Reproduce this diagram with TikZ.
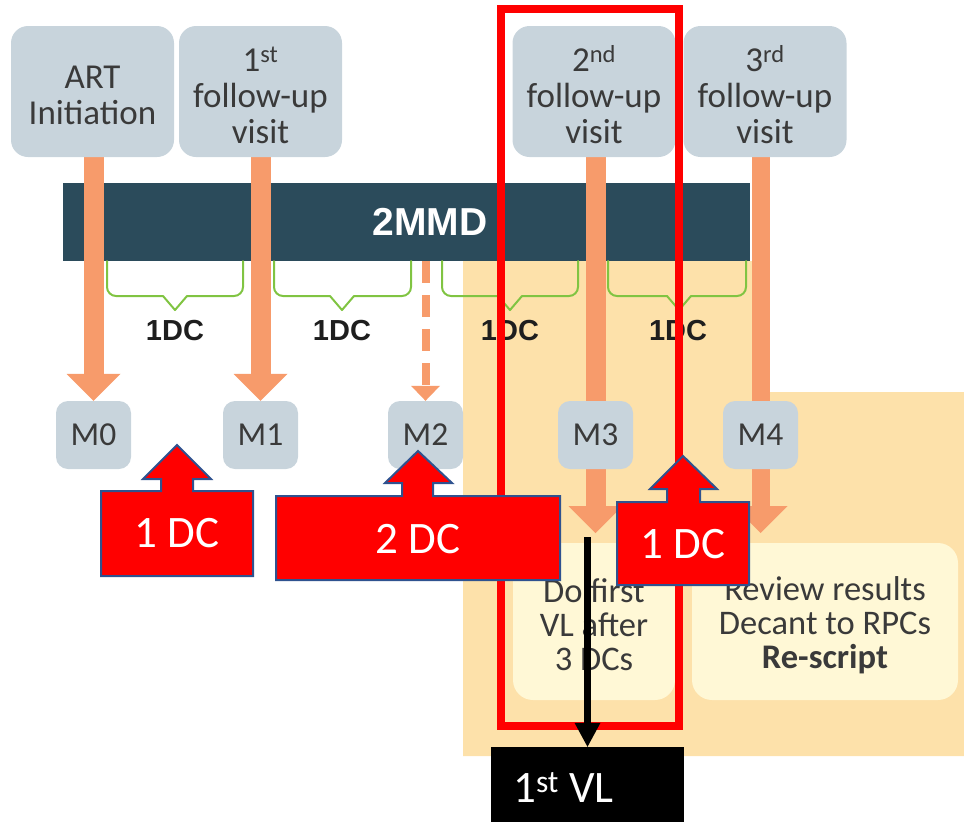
\documentclass[tikz,border=0pt]{standalone}
\usepackage{fontspec}
\setmainfont{Carlito}
\newfontfamily\arialf{Liberation Sans}
\usetikzlibrary{arrows.meta}
\pgfdeclarelayer{back}
\pgfdeclarelayer{mid}
\pgfdeclarelayer{front}
\pgfsetlayers{back,mid,main,front}
\definecolor{boxgray}{RGB}{200,212,220}
\definecolor{orng}{RGB}{247,155,107}
\definecolor{bardark}{RGB}{43,75,91}
\definecolor{beige}{RGB}{253,225,170}
\definecolor{ylw}{RGB}{255,248,214}
\definecolor{grn}{RGB}{128,196,66}
\definecolor{calloutblue}{RGB}{47,82,143}
\definecolor{txtgray}{RGB}{58,58,58}
\definecolor{txtdark}{RGB}{30,30,30}
\definecolor{hired}{RGB}{255,0,0}
\newcommand\dcbrace[3]{%
  \draw[brace, rounded corners=9pt] (#1,261) -- (#1,296) -- (#2-12,296);
  \draw[brace] (#2-12,296) -- (#2,310) -- (#2+12,296);
  \draw[brace, rounded corners=9pt] (#2+12,296) -- (#3,296) -- (#3,261);}
\begin{document}
\begin{tikzpicture}[x=1pt,y=-1pt,
  visit/.style={fill=boxgray, rounded corners=17pt, minimum width=163pt, minimum height=131pt, inner sep=0pt},
  vtext/.style={align=center, text=txtgray, inner sep=0pt, font=\fontsize{35}{36}\selectfont},
  mbox/.style={fill=boxgray, rounded corners=12pt, minimum width=75pt, minimum height=68pt, inner sep=0pt, text=txtgray, font=\fontsize{33.5}{36}\selectfont},
  ybox/.style={fill=ylw, rounded corners=20pt, minimum height=157pt, inner sep=0pt},
  ytext/.style={align=center, text=txtgray, inner sep=0pt, font=\fontsize{34.5}{34}\selectfont},
  dclabel/.style={text=txtdark, font=\arialf\bfseries\fontsize{29}{30}\selectfont, inner sep=0pt},
  oline/.style={draw=orng, line width=20pt},
  oarrow/.style={oline, -{Triangle[width=54pt,length=27pt,line width=0pt]}},
  brace/.style={draw=grn, line width=2pt, line cap=round, line join=round},
  callout/.style={fill=hired, draw=calloutblue, line width=2pt, line join=miter},
  callouttext/.style={text=white, font=\fontsize{45}{48}\selectfont, inner sep=0pt},
]
\useasboundingbox (0,0) rectangle (964,822);

% background
\begin{pgfonlayer}{back}
  \fill[beige] (463,261) -- (767,261) -- (767,392) -- (964,392) -- (964,756) -- (463,756) -- cycle;
  \node[fill=bardark, minimum width=687pt, minimum height=78pt, inner sep=0pt] (bar) at (406.5,222) {};
  \node[text=white, font=\arialf\bfseries\fontsize{39}{40}\selectfont, inner sep=0pt] (barlabel) at (430,222) {2MMD};
\end{pgfonlayer}

% top boxes
\node[visit] (art) at (92.5,91.5) {};
\node[visit] (v1) at (260.5,91.5) {};
\node[visit] (v2) at (594,91.5) {};
\node[visit] (v3) at (765,91.5) {};
\node[vtext] (artt) at (92.5,95.5) {ART\\Initiation};
\node[vtext] (v1t) at (260.5,95) {1\textsuperscript{st}\\follow-up\\visit};
\node[vtext] (v2t) at (594,95) {2\textsuperscript{nd}\\follow-up\\visit};
\node[vtext] (v3t) at (765,95) {3\textsuperscript{rd}\\follow-up\\visit};

% month boxes
\node[mbox] (m0) at (93.5,435) {M0};
\node[mbox] (m1) at (260.5,435) {M1};
\node[mbox] (m2) at (425.5,435) {M2};
\node[mbox] (m3) at (595.5,435) {M3};
\node[mbox] (m4) at (760.5,435) {M4};

\coordinate (t3) at (595.5,533);
\coordinate (t4) at (760.5,533);

% orange arrows
\begin{pgfonlayer}{mid}
  \draw[oarrow] (art.south -| m0.north) -- (m0.north);
  \draw[oarrow] (v1.south -| m1.north) -- (m1.north);
  \draw[oline] (v2.south -| m3.north) -- (m3.north);
  \draw[oarrow] (m3.south) -- (t3);
  \draw[oline, line width=18pt] (v3.south -| m4.north) -- (m4.north);
  \draw[oarrow, line width=18pt] (m4.south) -- (t4);
  \draw[draw=orng, line width=8pt, dash pattern=on 22pt off 12pt,
        -{Triangle[width=29pt,length=15pt,line width=0pt]}] (m2.north |- bar.south) -- (m2.north);
\end{pgfonlayer}

% braces and labels
\dcbrace{107}{175}{243}
\dcbrace{274}{342}{411}
\dcbrace{442}{510}{578}
\dcbrace{608}{679}{746}
\node[dclabel] (dc1) at (175,331) {1DC};
\node[dclabel] (dc2) at (342,331) {1DC};
\node[dclabel] (dc3) at (510,331) {1DC};
\node[dclabel] (dc4) at (678,331) {1DC};

% bottom boxes
\node[ybox, minimum width=162pt] (vlbox) at (594,621.5) {};
\node[ybox, minimum width=266pt] (rev) at (825,621.5) {};
\node[ytext] (vlboxt) at (594,625) {Do first\\VL after\\3 DCs};
\node[ytext] (revt) at (825,625) {Review results\\Decant to RPCs\\\textbf{Re-script}};

% overlays
\begin{pgfonlayer}{front}
  \node[draw=hired, line width=8pt, minimum width=178pt, minimum height=717pt, inner sep=0pt] (hl) at (590,367.5) {};
  \draw[callout] (101,491) -- (161,491) -- (161,479) -- (143,479) -- (177,445) -- (211,479) -- (193,479) -- (193,491) -- (253,491) -- (253,576) -- (101,576) -- cycle;
  \node[callouttext] (c1) at (177,533.5) {1 DC};
  \draw[callout] (276,496) -- (402,496) -- (402,483) -- (385,483) -- (418,451) -- (452,483) -- (433,483) -- (433,496) -- (560,496) -- (560,580) -- (276,580) -- cycle;
  \node[callouttext] (c2) at (418,539) {2 DC};
  \draw[callout] (617,502) -- (667,502) -- (667,489) -- (650,489) -- (683,456) -- (717,489) -- (700,489) -- (700,502) -- (749,502) -- (749,585) -- (617,585) -- cycle;
  \node[callouttext] (c3) at (683,544.5) {1 DC};
  \node[fill=black, minimum width=193pt, minimum height=75pt, inner sep=0pt] (vl) at (587.5,784.5) {};
  \node[anchor=base west, text=white, font=\fontsize{45}{48}\selectfont, inner sep=0pt] (vltext) at (513,802) {1\textsuperscript{st} VL};
  \coordinate (vlstart) at (587.5,537);
  \draw[line width=7pt, -{Triangle[width=26pt,length=24pt,line width=0pt]}] (vlstart) -- (vl.north);
\end{pgfonlayer}
\end{tikzpicture}
\end{document}
